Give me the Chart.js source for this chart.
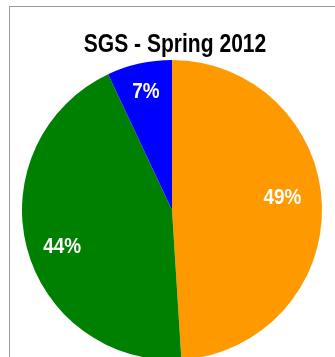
<!DOCTYPE html>
<html>
<head>
<meta charset="utf-8">
<script src="https://cdn.jsdelivr.net/npm/chart.js@4"></script>
<style>
  html, body { margin: 0; padding: 0; background: #fff; overflow: hidden; }
  #wrap { position: absolute; left: 0; top: 0; width: 335px; height: 357px; overflow: hidden; background: #fff; }
  #frame { position: absolute; left: 9px; top: 6px; width: 400px; height: 400px; border: 1px solid #9a9a9a; }
  #chart { position: absolute; left: 0; top: 0; }
</style>
</head>
<body>
<div id="wrap">
  <div id="frame"></div>
  <canvas id="chart" width="344" height="400"></canvas>
</div>
<script>
// SGS spring 2012 share pie

// DATA
// ============================================================
const chartTitle = 'SGS - Spring 2012';
const categories = ['Segment A', 'Segment B', 'Segment C'];
const shares     = [49, 44, 7];
const colors     = ['#ff9900', '#008000', '#0000ff'];

// small nudges so labels sit where the original put them
const labelNudge = [[-5, -10], [2, 6], [-1, -7]];

// narrow bold text, like the original's condensed face
function drawNarrow(ctx, text, x, y, size, squeeze, color) {
  ctx.save();
  ctx.font = `bold ${size}px "Liberation Sans", Arial, sans-serif`;
  ctx.fillStyle = color;
  ctx.textAlign = 'center';
  ctx.textBaseline = 'alphabetic';
  ctx.translate(x, y);
  ctx.scale(squeeze, 1);
  ctx.fillText(text, 0, 0);
  ctx.restore();
}

const titlePlugin = {
  id: 'narrowTitle',
  afterDraw(chart) {
    drawNarrow(chart.ctx, chartTitle, 175, 52, 26, 0.81, '#000');
  }
};

const pctLabels = {
  id: 'pctLabels',
  afterDatasetsDraw(chart) {
    const meta = chart.getDatasetMeta(0);
    const total = shares.reduce((a, b) => a + b, 0);
    meta.data.forEach((arc, i) => {
      const p = arc.getProps(['x', 'y', 'startAngle', 'endAngle', 'outerRadius'], true);
      const mid = (p.startAngle + p.endAngle) / 2;
      const r = p.outerRadius * 0.77;
      const x = p.x + Math.cos(mid) * r + labelNudge[i][0];
      const y = p.y + Math.sin(mid) * r + labelNudge[i][1];
      const pct = Math.round(shares[i] / total * 100) + '%';
      drawNarrow(chart.ctx, pct, x, y + 8, 22, 0.86, '#fff');
    });
  }
};

new Chart(document.getElementById('chart'), {
  type: 'pie',
  data: {
    labels: categories,
    datasets: [{ data: shares, backgroundColor: colors, borderWidth: 0 }]
  },
  options: {
    responsive: false,
    devicePixelRatio: 1,
    animation: false,
    layout: { padding: { left: 22, right: 22, top: 60, bottom: 40 } },
    plugins: { legend: { display: false }, title: { display: false }, tooltip: { enabled: false } }
  },
  plugins: [titlePlugin, pctLabels]
});
</script>
</body>
</html>
